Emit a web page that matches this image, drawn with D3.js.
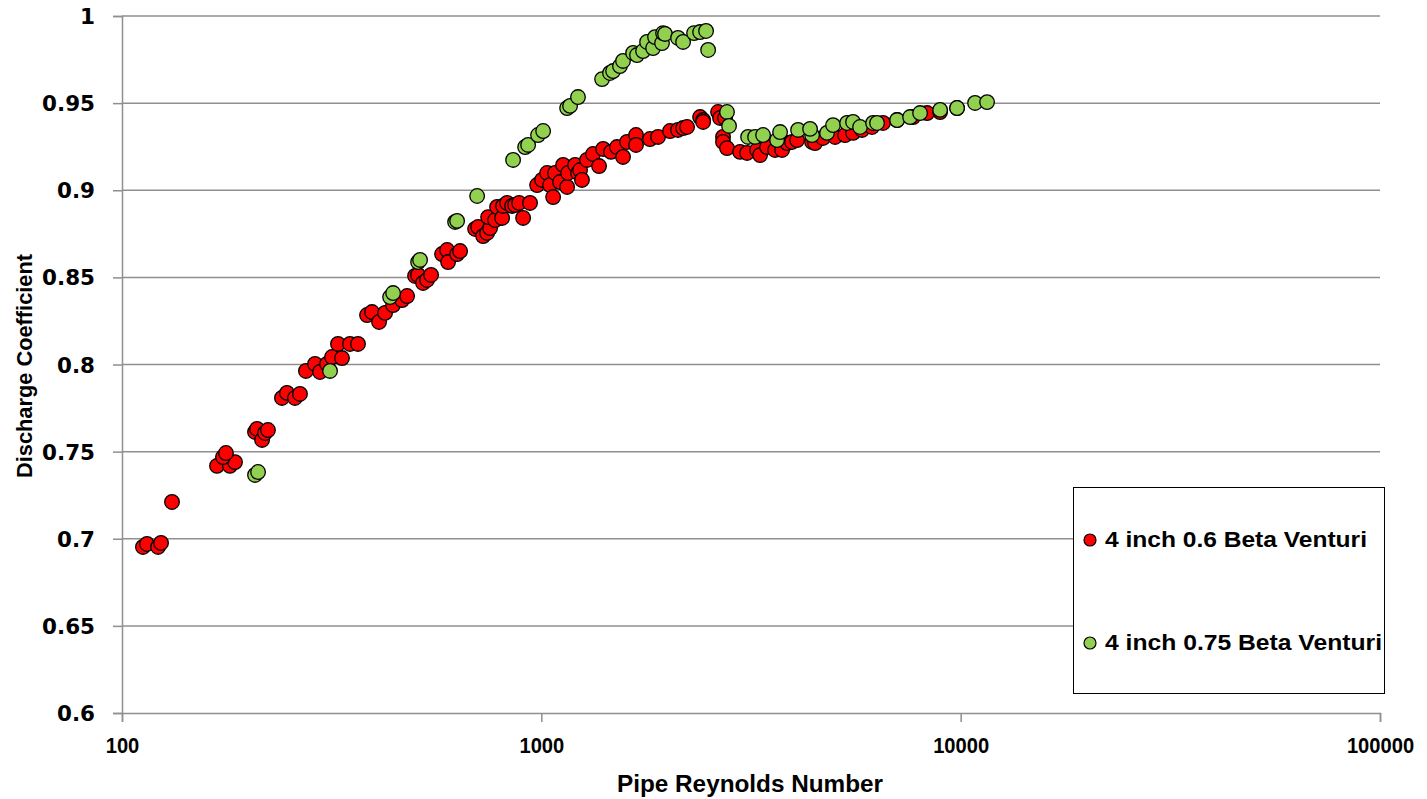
<!DOCTYPE html>
<html>
<head>
<meta charset="utf-8">
<script src="https://cdn.jsdelivr.net/npm/d3@7"></script>
<style>
html,body{margin:0;padding:0;background:#fff;}
svg{display:block;}
</style>
</head>
<body>
<svg id="chart" width="1427" height="799"></svg>
<script>
// ---- Data ----
const xTicks = [100, 1000, 10000, 100000];
const yTicks = [0.6, 0.65, 0.7, 0.75, 0.8, 0.85, 0.9, 0.95, 1];
const seriesNames = ["4 inch 0.6 Beta Venturi", "4 inch 0.75 Beta Venturi"];
const seriesColors = ["#FF0000", "#92D050"];

// [Pipe Reynolds Number, Discharge Coefficient]
const beta060 = [
 [112.2,0.6953],[114.7,0.6970],[121.9,0.6953],[123.9,0.6976],[131.6,0.7211],
 [168.5,0.7418],[180.9,0.7418],[186.0,0.7440],[174.1,0.7469],[177.0,0.7492],
 [207.6,0.7613],[209.9,0.7630],[215.8,0.7567],[219.3,0.7607],[222.9,0.7624],
 [240.7,0.7808],[247.4,0.7837],[258.5,0.7808],[265.7,0.7831],
 [274.6,0.7963],[288.6,0.8003],[296.6,0.7957],[308.3,0.8003],[316.8,0.8043],[334.7,0.8037],
 [327.4,0.8118],[349.7,0.8118],[365.4,0.8118],
 [384.0,0.8284],[394.7,0.8301],[410.2,0.8244],[424.0,0.8296],[443.1,0.8341],[465.5,0.8370],[478.5,0.8393],
 [499.9,0.8508],[508.2,0.8514],[522.3,0.8468],[533.9,0.8485],[545.8,0.8514],
 [579.8,0.8634],[596.0,0.8657],[599.3,0.8588],[629.7,0.8634],[640.1,0.8651],
 [695.2,0.8778],[706.8,0.8789],[726.4,0.8737],[742.5,0.8755],[754.8,0.8783],
 [746.6,0.8846],[775.8,0.8829],[784.3,0.8904],[806.2,0.8841],[810.6,0.8910],[828.6,0.8927],
 [851.6,0.8910],[865.8,0.8915],[885.1,0.8927],[904.8,0.8841],[939.8,0.8927],
 [977,0.9030],[1004,0.9059],[1032,0.9099],[1049,0.9030],[1067,0.8961],[1078,0.9099],
 [1108,0.9047],[1127,0.9145],[1152,0.9019],[1158,0.9099],[1204,0.9145],[1223,0.9099],
 [1237,0.9116],[1250,0.9059],[1285,0.9174],[1328,0.9208],[1373,0.9139],[1404,0.9237],
 [1466,0.9220],[1515,0.9248],[1566,0.9191],[1601,0.9277],[1682,0.9317],[1682,0.9260],
 [1816,0.9294],[1898,0.9306],[2027,0.9340],[2118,0.9346],[2178,0.9357],[2226,0.9363],
 [2391,0.9420],[2431,0.9403],[2431,0.9392],
 [2639,0.9449],[2668,0.9415],[2742,0.9415],[2712,0.9306],[2712,0.9277],[2772,0.9242],
 [2978,0.9220],[3095,0.9214],[3269,0.9231],[3324,0.9202],[3454,0.9248],[3609,0.9231],
 [3751,0.9231],[3855,0.9271],[3962,0.9277],[4073,0.9288],[4422,0.9277],[4495,0.9271],
 [4697,0.9300],[5017,0.9306],[5300,0.9317],[5538,0.9329],[5819,0.9346],[6147,0.9363],
 [6529,0.9386],[7053,0.9403],[7701,0.9420],[8316,0.9443],[8932,0.9449],[9804,0.9472]
];

const beta075 = [
 [207.6,0.7366],[211.1,0.7383],[313.4,0.7963],[435.8,0.8387],[443.1,0.8410],
 [508.2,0.8588],[513.8,0.8600],[622.8,0.8818],[629.7,0.8824],[702.9,0.8967],
 [856.3,0.9174],[914.8,0.9248],[930.0,0.9260],[982,0.9317],[1010,0.9340],
 [1152,0.9472],[1171,0.9484],[1223,0.9535],
 [1396,0.9638],[1458,0.9673],[1483,0.9684],[1540,0.9713],[1566,0.9742],
 [1655,0.9788],[1691,0.9776],[1748,0.9799],[1787,0.9851],[1847,0.9816],[1867,0.9879],
 [1940,0.9845],[1951,0.9902],[1972,0.9897],[2118,0.9874],[2178,0.9851],
 [2313,0.9902],[2391,0.9908],[2471,0.9914],[2499,0.9805],
 [2772,0.9449],[2803,0.9369],
 [3112,0.9306],[3234,0.9306],[3379,0.9317],[3649,0.9288],[3710,0.9334],[4095,0.9346],
 [4422,0.9317],[4374,0.9352],[4801,0.9329],[4962,0.9374],[5359,0.9386],[5538,0.9392],
 [5755,0.9363],[6181,0.9386],[6318,0.9386],[7053,0.9403],[7574,0.9420],[8002,0.9443],
 [8932,0.9461],[9804,0.9472],[10822,0.9501],[11560,0.9506]
];

// ---- Layout ----
const svg = d3.select("#chart");
const W = 1427, H = 799;
const m = {left:122, right:47, top:16, bottom:86};
const x = d3.scaleLog().domain([100, 100000]).range([m.left, W - m.right]);
const y = d3.scaleLinear().domain([0.6, 1]).range([H - m.bottom, m.top]);
const grid = "#8f8f8f";

// gridlines
svg.append("g").selectAll("line").data(yTicks.filter(d => d > 0.6)).join("line")
  .attr("x1", m.left).attr("x2", W - m.right)
  .attr("y1", d => y(d)).attr("y2", d => y(d))
  .attr("stroke", grid).attr("stroke-width", 1.5);

// y axis (ticks + line from d3, labels set explicitly)
const yFmt = d => String(+d.toFixed(2));
const yAxis = svg.append("g").attr("transform", `translate(${m.left},0)`)
  .call(d3.axisLeft(y).tickValues(yTicks).tickSize(9).tickFormat(""));
yAxis.select(".domain").attr("stroke", grid).attr("stroke-width", 1.5);
yAxis.selectAll(".tick line").attr("stroke", grid).attr("stroke-width", 1.5);
yAxis.selectAll(".tick").append("g").attr("transform", "translate(-27,0)")
  .append("text")
  .text(yFmt)
  .attr("dy", "0.36em")
  .style("text-anchor", "end")
  .style("font-family", "'DejaVu Sans', Verdana, sans-serif")
  .style("font-weight", "bold").style("font-size", "21px").style("fill", "#000")
  .each(function(d) {
    const s = yFmt(d);
    const nd = s.replace(".", "").length, nDot = s.length - nd;
    const target = nd * 15 + nDot * 8;
    const w = this.getComputedTextLength() || target;
    d3.select(this).attr("transform", `scale(${target / w},1)`);
  });

// x axis
const xAxis = svg.append("g").attr("transform", `translate(0,${H - m.bottom})`)
  .call(d3.axisBottom(x).tickValues(xTicks).tickSize(9).tickFormat(""));
xAxis.select(".domain").attr("stroke", grid).attr("stroke-width", 1.5);
xAxis.selectAll(".tick line").attr("stroke", grid).attr("stroke-width", 1.5);
xAxis.selectAll(".tick").append("text")
  .text(d3.format("d"))
  .attr("y", 40)
  .style("text-anchor", "middle")
  .style("font-family", "'Liberation Sans', Arial, sans-serif")
  .style("font-weight", "bold").style("font-size", "22px").style("fill", "#000")
  .attr("textLength", d => String(d).length * 11.2)
  .attr("lengthAdjust", "spacingAndGlyphs");

// axis titles
svg.append("text").text("Pipe Reynolds Number")
  .attr("x", 750).attr("y", 792)
  .style("text-anchor", "middle")
  .style("font-family", "'Liberation Sans', Arial, sans-serif")
  .style("font-weight", "bold").style("font-size", "23px")
  .attr("textLength", 266).attr("lengthAdjust", "spacingAndGlyphs");
svg.append("text").text("Discharge Coefficient")
  .attr("transform", "translate(32,366) rotate(-90)")
  .style("text-anchor", "middle")
  .style("font-family", "'Liberation Sans', Arial, sans-serif")
  .style("font-weight", "bold").style("font-size", "22px")
  .attr("textLength", 224).attr("lengthAdjust", "spacingAndGlyphs");

// points
const series = [beta060, beta075];
series.forEach((data, i) => {
  svg.append("g").selectAll("circle").data(data).join("circle")
    .attr("cx", d => x(d[0])).attr("cy", d => y(d[1])).attr("r", 7.3)
    .attr("fill", seriesColors[i]).attr("stroke", "#000").attr("stroke-width", 1.3);
});

// legend
const lg = svg.append("g");
lg.append("rect").attr("x", 1073.5).attr("y", 487.5).attr("width", 311).attr("height", 206)
  .attr("fill", "#fff").attr("stroke", "#000").attr("stroke-width", 1);
const legendY = [540, 643];
seriesNames.forEach((name, i) => {
  lg.append("circle").attr("cx", 1090).attr("cy", legendY[i]).attr("r", 6)
    .attr("fill", seriesColors[i]).attr("stroke", "#000").attr("stroke-width", 1.2);
  lg.append("text").text(name).attr("x", 1105).attr("y", legendY[i] + 7)
    .style("font-family", "'Liberation Sans', Arial, sans-serif")
    .style("font-weight", "bold").style("font-size", "22px")
    .attr("textLength", i === 0 ? 262 : 277).attr("lengthAdjust", "spacingAndGlyphs");
});
</script>
</body>
</html>
